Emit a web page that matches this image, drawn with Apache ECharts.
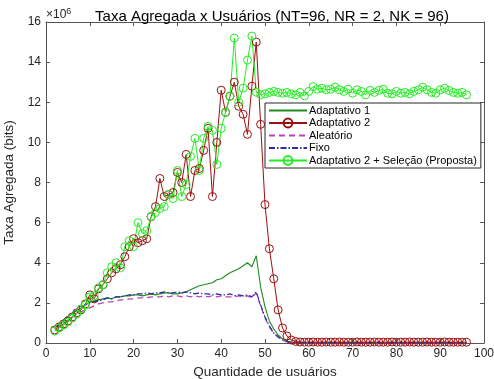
<!DOCTYPE html>
<html>
<head>
<meta charset="utf-8">
<script src="https://cdn.jsdelivr.net/npm/echarts@6/dist/echarts.min.js"></script>
<style>
  html, body { margin: 0; padding: 0; background: #fff; }
  #chart { width: 494px; height: 379px; }
</style>
</head>
<body>
<div id="chart"></div>
<script>
// numero de usuarios (2..96)
var users = [2, 3, 4, 5, 6, 7, 8, 9, 10, 11,
  12, 13, 14, 15, 16, 17, 18, 19, 20, 21,
  22, 23, 24, 25, 26, 27, 28, 29, 30, 31,
  32, 33, 34, 35, 36, 37, 38, 39, 40, 41,
  42, 43, 44, 45, 46, 47, 48, 49, 50, 51,
  52, 53, 54, 55, 56, 57, 58, 59, 60, 61,
  62, 63, 64, 65, 66, 67, 68, 69, 70, 71,
  72, 73, 74, 75, 76, 77, 78, 79, 80, 81,
  82, 83, 84, 85, 86, 87, 88, 89, 90, 91,
  92, 93, 94, 95, 96]

// taxas em x10^6 bits
var adaptativo1 = [0.7, 0.9, 1.1, 1.3, 1.45, 1.6, 1.75, 1.9, 2.05, 2.1,
  2.15, 2.2, 2.25, 2.2, 2.3, 2.3, 2.35, 2.35, 2.4, 2.4,
  2.35, 2.4, 2.45, 2.4, 2.45, 2.5, 2.5, 2.45, 2.45, 2.5,
  2.55, 2.65, 2.75, 2.85, 2.9, 2.95, 3.0, 3.15, 3.2, 3.35,
  3.5, 3.6, 3.7, 3.85, 4.0, 3.8, 4.35, 2.8, 1.8, 1.1,
  0.7, 0.4, 0.2, 0.1, 0.05, 0.03, 0.02, 0.02, 0.02, 0.02,
  0.02, 0.02, 0.02, 0.02, 0.02, 0.02, 0.02, 0.02, 0.02, 0.02,
  0.02, 0.02, 0.02, 0.02, 0.02, 0.02, 0.02, 0.02, 0.02, 0.02,
  0.02, 0.02, 0.02, 0.02, 0.02, 0.02, 0.02, 0.02, 0.02, 0.02,
  0.02, 0.02, 0.02, 0.02, 0.02]

var adaptativo2 = [0.65, 0.8, 0.95, 1.1, 1.3, 1.5, 1.65, 1.95, 2.4, 2.2,
  2.7, 2.9, 3.2, 3.5, 3.7, 3.9, 4.3, 4.8, 5.2, 5.0,
  5.1, 5.2, 6.3, 6.8, 8.2, 7.3, 7.4, 7.5, 8.5, 8.0,
  9.4, 7.3, 8.6, 8.7, 9.6, 10.7, 7.3, 10.0, 12.6, 11.5,
  12.3, 13.0, 11.8, 11.4, 10.4, 12.8, 15.0, 10.9, 6.9, 4.7,
  3.2, 1.65, 0.75, 0.35, 0.15, 0.08, 0.05, 0.04, 0.04, 0.05,
  0.04, 0.04, 0.05, 0.04, 0.04, 0.05, 0.04, 0.04, 0.04, 0.05,
  0.04, 0.04, 0.04, 0.05, 0.04, 0.04, 0.04, 0.05, 0.04, 0.04,
  0.04, 0.05, 0.04, 0.04, 0.04, 0.05, 0.04, 0.04, 0.04, 0.05,
  0.04, 0.04, 0.04, 0.04, 0.04]

var aleatorio = [0.7, 0.85, 1.0, 1.15, 1.3, 1.45, 1.55, 1.65, 1.75, 1.85,
  1.95, 2.0, 2.05, 2.05, 2.1, 2.15, 2.15, 2.2, 2.2, 2.25,
  2.25, 2.25, 2.3, 2.3, 2.3, 2.35, 2.3, 2.35, 2.35, 2.3,
  2.35, 2.3, 2.35, 2.3, 2.35, 2.3, 2.35, 2.3, 2.35, 2.3,
  2.3, 2.3, 2.35, 2.3, 2.35, 2.25, 2.5, 1.85, 1.25, 0.8,
  0.5, 0.3, 0.15, 0.07, 0.03, 0.01, 0.01, 0.01, 0.01, 0.01,
  0.01, 0.01, 0.01, 0.01, 0.01, 0.01, 0.01, 0.01, 0.01, 0.01,
  0.01, 0.01, 0.01, 0.01, 0.01, 0.01, 0.01, 0.01, 0.01, 0.01,
  0.01, 0.01, 0.01, 0.01, 0.01, 0.01, 0.01, 0.01, 0.01, 0.01,
  0.01, 0.01, 0.01, 0.01, 0.01]

var fixo = [0.75, 0.95, 1.15, 1.35, 1.5, 1.65, 1.8, 1.9, 2.0, 2.05,
  2.1, 2.15, 2.25, 2.2, 2.3, 2.3, 2.35, 2.4, 2.4, 2.45,
  2.45, 2.5, 2.45, 2.5, 2.5, 2.55, 2.5, 2.5, 2.55, 2.5,
  2.55, 2.5, 2.45, 2.5, 2.45, 2.45, 2.4, 2.45, 2.4, 2.4,
  2.45, 2.35, 2.4, 2.35, 2.4, 2.3, 2.55, 1.9, 1.3, 0.85,
  0.5, 0.3, 0.15, 0.07, 0.03, 0.01, 0.01, 0.01, 0.01, 0.01,
  0.01, 0.01, 0.01, 0.01, 0.01, 0.01, 0.01, 0.01, 0.01, 0.01,
  0.01, 0.01, 0.01, 0.01, 0.01, 0.01, 0.01, 0.01, 0.01, 0.01,
  0.01, 0.01, 0.01, 0.01, 0.01, 0.01, 0.01, 0.01, 0.01, 0.01,
  0.01, 0.01, 0.01, 0.01, 0.01]

var proposta = [0.6, 0.75, 0.9, 1.05, 1.25, 1.45, 1.7, 1.9, 2.3, 2.35,
  2.75, 2.9, 3.5, 3.8, 4.0, 3.75, 4.8, 5.1, 4.8, 6.0,
  5.45, 5.6, 6.3, 6.5, 6.7, 6.8, 7.4, 7.2, 8.6, 7.3,
  7.9, 9.3, 10.2, 8.6, 10.2, 10.8, 10.6, 8.9, 10.7, 11.5,
  12.3, 15.2, 12.0, 12.7, 14.1, 15.3, 12.5, 12.37, 12.42, 12.49,
  12.54, 12.49, 12.45, 12.49, 12.42, 12.37, 12.49, 12.32, 12.54, 12.78,
  12.65, 12.7, 12.62, 12.65, 12.75, 12.62, 12.54, 12.65, 12.45, 12.62,
  12.54, 12.37, 12.59, 12.49, 12.59, 12.65, 12.45, 12.42, 12.54, 12.45,
  12.49, 12.42, 12.54, 12.62, 12.75, 12.62, 12.49, 12.45, 12.62, 12.7,
  12.59, 12.49, 12.45, 12.49, 12.37]

var xTicks = { min: 0, max: 100, interval: 10 }
var yTicks = { min: 0, max: 16, interval: 2 }

var FONT = 'Liberation Sans, Helvetica, Arial, sans-serif'
var AXIS_COLOR = '#555'
var TEXT_COLOR = '#262626'

function pairs (ys) {
  return users.map(function (u, i) { return [u, ys[i]] })
}

function frameAxis (pos, showLabels, extra) {
  var ax = {
    type: 'value',
    position: pos,
    axisLine: { show: true, onZero: false, lineStyle: { color: AXIS_COLOR, width: 1 } },
    axisTick: { show: true, inside: true, length: 4, lineStyle: { color: AXIS_COLOR } },
    axisLabel: { show: showLabels, color: TEXT_COLOR, fontSize: 12, fontFamily: FONT, margin: 5 },
    splitLine: { show: false }
  }
  return Object.assign(ax, extra)
}

// legenda: linhas sem marcador escondem o simbolo
var noMarker = { opacity: 0 }

var chart = echarts.init(document.getElementById('chart'))

var option = {
  animation: false,
  backgroundColor: '#fff',
  textStyle: { fontFamily: FONT },
  title: {
    text: 'Taxa Agregada x Usuários (NT=96, NR = 2, NK = 96)',
    left: 267,
    textAlign: 'center',
    top: 4,
    textStyle: { fontSize: 15, fontWeight: 'normal', color: '#000', fontFamily: FONT }
  },
  graphic: [{
    type: 'text',
    left: 46,
    top: 7,
    style: {
      text: '×10{sup|6}',
      font: '12px ' + FONT,
      fill: TEXT_COLOR,
      rich: { sup: { fontSize: 9, verticalAlign: 'top', padding: [0, 0, 6, 0] } }
    }
  }],
  grid: { left: 46, right: 10, top: 22, bottom: 36, containLabel: false, outerBoundsMode: 'none' },
  legend: {
    orient: 'vertical',
    left: 265,
    top: 103,
    width: 219,
    padding: [2, 4, 2, 3],
    itemGap: 1.5,
    itemWidth: 38,
    itemHeight: 11,
    backgroundColor: '#fff',
    borderColor: '#262626',
    borderWidth: 1,
    borderRadius: 0,
    textStyle: { fontSize: 11, color: '#000', fontFamily: FONT, padding: [0, 0, 0, -3] },
    data: [
      { name: 'Adaptativo 1', itemStyle: noMarker },
      { name: 'Adaptativo 2' },
      { name: 'Aleatório', itemStyle: noMarker },
      { name: 'Fixo', itemStyle: noMarker },
      { name: 'Adaptativo 2 + Seleção (Proposta)' }
    ]
  },
  xAxis: [
    frameAxis('bottom', true, Object.assign({
      name: 'Quantidade de usuários',
      nameLocation: 'middle',
      nameGap: 18,
      nameTextStyle: { fontSize: 13.5, color: TEXT_COLOR, fontFamily: FONT }
    }, xTicks)),
    frameAxis('top', false, Object.assign({}, xTicks))
  ],
  yAxis: [
    frameAxis('left', true, Object.assign({
      name: 'Taxa Agregada (bits)',
      nameLocation: 'middle',
      nameGap: 23,
      nameTextStyle: { fontSize: 13.5, color: TEXT_COLOR, fontFamily: FONT }
    }, yTicks)),
    frameAxis('right', false, Object.assign({}, yTicks))
  ],
  series: [
    {
      name: 'Adaptativo 1',
      type: 'line',
      symbol: 'none',
      lineStyle: { color: '#1e8c1e', width: 1.1 },
      itemStyle: { color: '#1e8c1e' },
      data: pairs(adaptativo1)
    },
    {
      name: 'Adaptativo 2',
      type: 'line',
      symbol: 'circle',
      symbolSize: 8,
      lineStyle: { color: '#9a0f0f', width: 1 },
      itemStyle: { color: 'rgba(0,0,0,0)', borderColor: '#9a0f0f', borderWidth: 1 },
      data: pairs(adaptativo2)
    },
    {
      name: 'Aleatório',
      type: 'line',
      symbol: 'none',
      lineStyle: { color: '#b845b8', width: 1.3, type: [6, 4] },
      itemStyle: { color: '#b845b8' },
      data: pairs(aleatorio)
    },
    {
      name: 'Fixo',
      type: 'line',
      symbol: 'none',
      lineStyle: { color: '#2a2aa8', width: 1.2, type: [6, 2, 1.5, 2] },
      itemStyle: { color: '#2a2aa8' },
      data: pairs(fixo)
    },
    {
      name: 'Adaptativo 2 + Seleção (Proposta)',
      type: 'line',
      symbol: 'circle',
      symbolSize: 8,
      lineStyle: { color: '#22ee22', width: 1 },
      itemStyle: { color: 'rgba(0,0,0,0)', borderColor: '#22ee22', borderWidth: 1 },
      data: pairs(proposta)
    }
  ]
}

chart.setOption(option)
window.onresize = chart.resize
</script>
</body>
</html>
